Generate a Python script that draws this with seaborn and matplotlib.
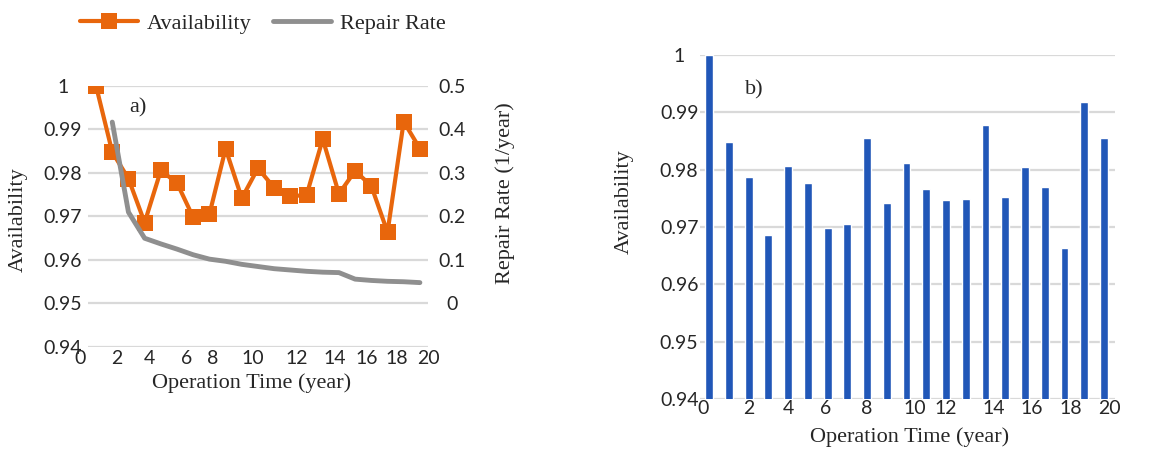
import matplotlib
matplotlib.use("Agg")
import matplotlib.pyplot as plt
import matplotlib.transforms as mtransforms
import seaborn as sns

# Data
years = list(range(21))
availability = [1.0, 0.9848, 0.9787, 0.9686, 0.9806, 0.9777, 0.9698, 0.9705,
                0.9856, 0.9742, 0.9811, 0.9766, 0.9747, 0.9749, 0.9878, 0.9752,
                0.9805, 0.9770, 0.9664, 0.9918, 0.9856]
repair_years = list(range(1, 21))
repair_rate = [0.417, 0.21, 0.15, 0.137, 0.125, 0.112, 0.102, 0.097, 0.090,
               0.085, 0.080, 0.077, 0.074, 0.072, 0.071, 0.056, 0.053, 0.051,
               0.050, 0.048]

x_labels = ['0', '2', '4', '6', '8', '10', '12', '14', '16', '18', '20']
avail_ticks = [0.94, 0.95, 0.96, 0.97, 0.98, 0.99, 1.0]
avail_labels = ['0.94', '0.95', '0.96', '0.97', '0.98', '0.99', '1']
rate_ticks = [0, 0.1, 0.2, 0.3, 0.4, 0.5]
rate_labels = ['0', '0.1', '0.2', '0.3', '0.4', '0.5']

# where the (oddly placed) x tick labels sit, in data units
left_xlabel_pos = [-1.0, 1.3, 3.3, 5.6, 7.2, 9.7, 12.4, 14.75, 16.7, 18.6, 20.5]
right_xlabel_pos = [-0.3, 2.0, 4.0, 5.9, 8.0, 10.4, 12.0, 14.4, 16.35, 18.3, 20.3]

orange = '#E8660C'
gray = '#8F8F8F'
blue = '#2157B8'
grid_c = '#D9D9D9'
text_c = '#262626'

sns.set_style('white')
plt.rcParams['font.family'] = ['Lato', 'DejaVu Sans']
serif = 'Liberation Serif'

fig = plt.figure(figsize=(11.53, 4.5), dpi=100)
ax = fig.add_axes([0.0763, 0.2289, 0.2949, 0.58])
ax2 = ax.twinx()
axb = fig.add_axes([0.6071, 0.1133, 0.36, 0.7644])


def place_label(axis, x, y):
    axis.set_label_coords(x, y)
    axis.label.set_ha('center')
    axis.label.set_va('center')


# ---- a) availability + repair rate ----
sns.lineplot(x=years, y=availability, ax=ax, color=orange, linewidth=3,
             marker='s', markersize=11, markeredgewidth=0, label='Availability',
             legend=False, zorder=3)
sns.lineplot(x=repair_years, y=repair_rate, ax=ax2, color=gray, linewidth=3.5,
             label='Repair Rate', legend=False, zorder=3)

ax.set_xlim(-0.5, 20.5)
ax.set_ylim(0.94, 1.0)
ax2.set_ylim(-0.1, 0.5)
ax.set_yticks(avail_ticks, avail_labels)
ax2.set_yticks(rate_ticks, rate_labels)
ax.set_xticks([])
ax.grid(axis='y', color=grid_c, linewidth=1.6)
ax.set_axisbelow(True)
for a in (ax, ax2):
    for s in a.spines.values():
        s.set_visible(False)
ax.tick_params(axis='y', length=0, pad=18, labelsize=14, labelcolor=text_c)
ax2.tick_params(axis='y', length=0, pad=17, labelsize=14, labelcolor=text_c)
for lbl in ax.get_yticklabels() + ax2.get_yticklabels():
    lbl.set_ha('center')

trans = mtransforms.blended_transform_factory(ax.transData, ax.transAxes)
for pos, lab in zip(left_xlabel_pos, x_labels):
    ax.text(pos, -0.045, lab, transform=trans, ha='center', va='center',
            fontsize=14, color=text_c)

ax.set_ylabel('Availability', family=serif, fontsize=16, color=text_c)
place_label(ax.yaxis, -0.206, 0.487)
ax2.set_ylabel('Repair Rate (1/year)', family=serif, fontsize=16, color=text_c)
place_label(ax2.yaxis, 1.226, 0.59)
ax.set_xlabel('Operation Time (year)', family=serif, fontsize=16, color=text_c)
place_label(ax.xaxis, 0.482, -0.138)
ax.text(0.147, 0.916, 'a)', transform=ax.transAxes, family=serif,
        fontsize=16, color=text_c, ha='center', va='center')

h1, l1 = ax.get_legend_handles_labels()
h2, l2 = ax2.get_legend_handles_labels()
fig.legend(h1 + h2, l1 + l2, loc='center', bbox_to_anchor=(0.228, 0.948),
           ncol=2, frameon=False, handlelength=2.6, columnspacing=1.0,
           handletextpad=0.4, prop={'family': serif, 'size': 16})

# ---- b) availability bars ----
sns.barplot(x=years, y=availability, ax=axb, native_scale=True, width=0.4,
            color=blue, saturation=1, errorbar=None, zorder=3)
axb.set_xlim(-0.46, 20.56)
axb.set_ylim(0.94, 1.0)
axb.set_yticks(avail_ticks, avail_labels)
axb.set_xticks(right_xlabel_pos, x_labels)
axb.grid(axis='y', color=grid_c, linewidth=1.6)
axb.grid(axis='x', visible=False)
axb.set_axisbelow(True)
for s in axb.spines.values():
    s.set_visible(False)
axb.tick_params(axis='y', length=0, pad=15, labelsize=14, labelcolor=text_c)
axb.tick_params(axis='x', length=0, pad=1, labelsize=14, labelcolor=text_c)
for lbl in axb.get_yticklabels():
    lbl.set_ha('center')
axb.set_ylabel('Availability', family=serif, fontsize=16, color=text_c)
place_label(axb.yaxis, -0.183, 0.573)
axb.set_xlabel('Operation Time (year)', family=serif, fontsize=16, color=text_c)
place_label(axb.xaxis, 0.504, -0.11)
axb.text(0.13, 0.898, 'b)', transform=axb.transAxes, family=serif,
         fontsize=16, color=text_c, ha='center', va='center')

fig.savefig('out.png', dpi=100)
